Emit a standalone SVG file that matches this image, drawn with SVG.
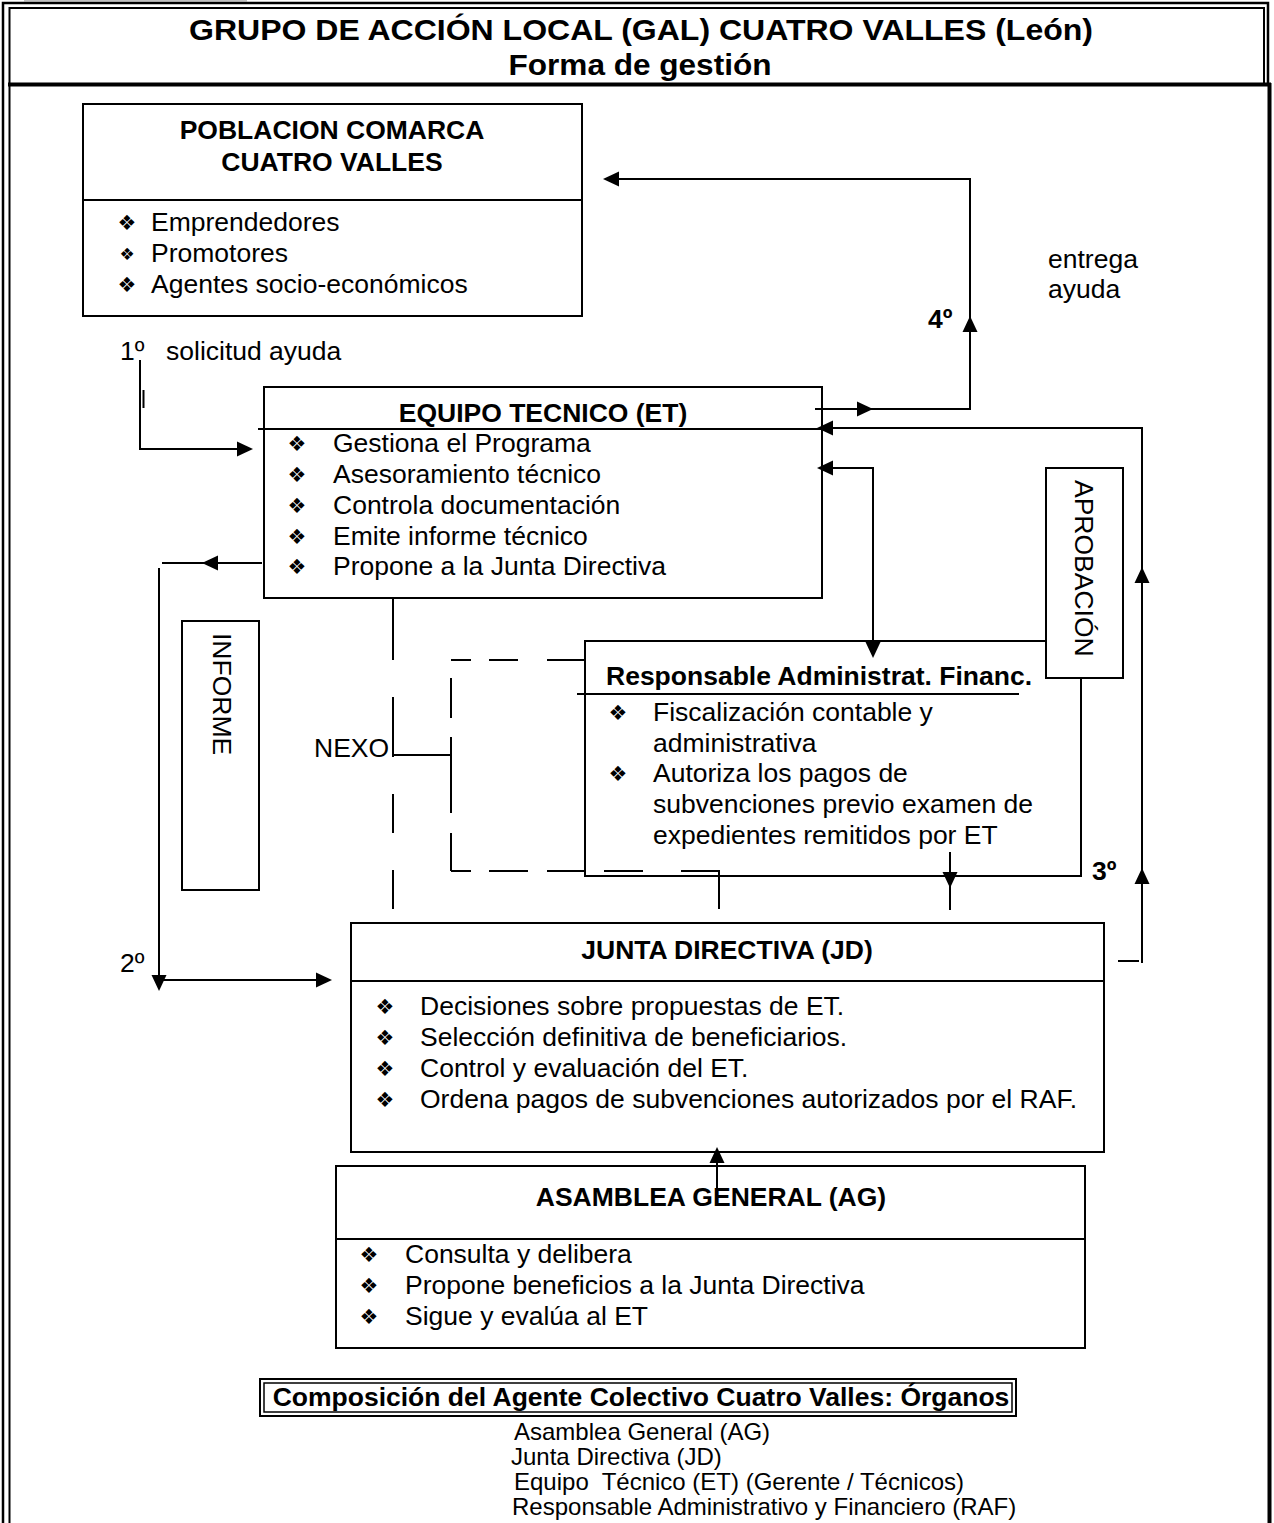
<svg xmlns="http://www.w3.org/2000/svg" width="1274" height="1523" viewBox="0 0 1274 1523">
<style>
.t{font-family:"Liberation Sans",Arial,sans-serif;font-size:26.5px;fill:#000}
.b{font-weight:bold}
.c{text-anchor:middle}
.ttl{font-size:30px;font-weight:bold;text-anchor:middle}
.lg{font-size:24px}
.box{fill:none;stroke:#000;stroke-width:2}
.wbox{fill:#fff;stroke:#000;stroke-width:2}
.ln{fill:none;stroke:#000;stroke-width:2}
.bul{font-family:"DejaVu Sans",sans-serif;font-size:21px;fill:#000;text-anchor:middle}
.frm{fill:none;stroke:#000}
</style>
<defs>
<path id="ah" d="M0,0 L-16,-7.5 L-16,7.5 Z" fill="#000"/>
</defs>
<rect width="1274" height="1523" fill="#fff"/>
<rect x="24" y="0" width="223" height="1.5" fill="#c0c0c0"/>

<g id="frame">
<path class="frm" stroke-width="2.5" d="M3,1523 V3 H1268 V84"/>
<path class="frm" stroke-width="2" d="M9.5,1523 V8 H1264 V84"/>
<line class="frm" stroke-width="4" x1="8" y1="84.5" x2="1271" y2="84.5"/>
<line class="frm" stroke-width="4" x1="1269.5" y1="83" x2="1269.5" y2="1523"/>
<text class="t ttl" x="641" y="40" textLength="904" lengthAdjust="spacingAndGlyphs">GRUPO DE ACCIÓN LOCAL (GAL) CUATRO VALLES (León)</text>
<text class="t ttl" x="640" y="75" textLength="263" lengthAdjust="spacingAndGlyphs">Forma de gestión</text>
</g>

<g id="poblacion">
<rect class="box" x="83" y="104" width="499" height="212"/>
<line class="ln" x1="83" y1="200" x2="582" y2="200"/>
<text class="t b c" x="332" y="139">POBLACION COMARCA</text>
<text class="t b c" x="332" y="171">CUATRO VALLES</text>
<text class="bul" x="127" y="230">❖</text>
<text class="bul" x="127" y="260" style="font-size:17px">❖</text>
<text class="bul" x="127" y="292">❖</text>
<text class="t" x="151" y="231">Emprendedores</text>
<text class="t" x="151" y="262">Promotores</text>
<text class="t" x="151" y="293">Agentes socio-económicos</text>
</g>

<g id="equipo-tecnico">
<rect class="box" x="264" y="387" width="558" height="211"/>
<line class="ln" x1="258" y1="429" x2="822" y2="429"/>
<text class="t b c" x="543" y="422">EQUIPO TECNICO (ET)</text>
<text class="bul" x="297" y="451">❖</text>
<text class="bul" x="297" y="482">❖</text>
<text class="bul" x="297" y="513">❖</text>
<text class="bul" x="297" y="544">❖</text>
<text class="bul" x="297" y="574">❖</text>
<text class="t" x="333" y="452">Gestiona el Programa</text>
<text class="t" x="333" y="483">Asesoramiento técnico</text>
<text class="t" x="333" y="514">Controla documentación</text>
<text class="t" x="333" y="545">Emite informe técnico</text>
<text class="t" x="333" y="575">Propone a la Junta Directiva</text>
</g>

<g id="informe">
<rect class="wbox" x="182" y="621" width="77" height="269"/>
<text class="t" transform="translate(213,633) rotate(90)">INFORME</text>
</g>

<g id="raf">
<rect class="box" x="585" y="641" width="496" height="235"/>
<line class="ln" x1="577" y1="694" x2="1019" y2="694"/>
<text class="t b" x="606" y="685">Responsable Administrat. Financ.</text>
<text class="bul" x="618" y="720">❖</text>
<text class="bul" x="618" y="781">❖</text>
<text class="t" x="653" y="721">Fiscalización contable y</text>
<text class="t" x="653" y="752">administrativa</text>
<text class="t" x="653" y="782">Autoriza los pagos de</text>
<text class="t" x="653" y="813">subvenciones previo examen de</text>
<text class="t" x="653" y="844">expedientes remitidos por ET</text>
</g>

<g id="aprobacion">
<rect class="wbox" x="1046" y="468" width="77" height="210"/>
<text class="t" transform="translate(1075,480) rotate(90)">APROBACIÓN</text>
</g>

<g id="junta-directiva">
<rect class="box" x="351" y="923" width="753" height="229"/>
<line class="ln" x1="351" y1="981" x2="1104" y2="981"/>
<text class="t b c" x="727" y="959">JUNTA DIRECTIVA (JD)</text>
<text class="bul" x="385" y="1014">❖</text>
<text class="bul" x="385" y="1045">❖</text>
<text class="bul" x="385" y="1076">❖</text>
<text class="bul" x="385" y="1107">❖</text>
<text class="t" x="420" y="1015">Decisiones sobre propuestas de ET.</text>
<text class="t" x="420" y="1046">Selección definitiva de beneficiarios.</text>
<text class="t" x="420" y="1077">Control y evaluación del ET.</text>
<text class="t" x="420" y="1108">Ordena pagos de subvenciones autorizados por el RAF.</text>
</g>

<g id="asamblea-general">
<rect class="box" x="336" y="1166" width="749" height="182"/>
<line class="ln" x1="336" y1="1239" x2="1085" y2="1239"/>
<text class="t b c" x="711" y="1206">ASAMBLEA GENERAL (AG)</text>
<text class="bul" x="369" y="1262">❖</text>
<text class="bul" x="369" y="1293">❖</text>
<text class="bul" x="369" y="1324">❖</text>
<text class="t" x="405" y="1263">Consulta y delibera</text>
<text class="t" x="405" y="1294">Propone beneficios a la Junta Directiva</text>
<text class="t" x="405" y="1325">Sigue y evalúa al ET</text>
</g>

<g id="labels">
<text class="t" x="120" y="360">1º</text>
<text class="t" x="166" y="360">solicitud ayuda</text>
<text class="t b" x="928" y="328">4º</text>
<text class="t" x="1048" y="268">entrega</text>
<text class="t" x="1048" y="298">ayuda</text>
<text class="t" x="120" y="972">2º</text>
<text class="t b" x="1092" y="880">3º</text>
<text class="t" x="314" y="757">NEXO</text>
</g>

<g id="connectors">
<!-- 1º solicitud -->
<path class="ln" d="M140,360 V449 H240"/>
<line class="ln" x1="143.5" y1="390" x2="143.5" y2="408"/>
<use href="#ah" transform="translate(253,449)"/>
<!-- ET -> informe -> JD -->
<path class="ln" d="M262,563 H162"/>
<use href="#ah" transform="translate(202,563) rotate(180)"/>
<path class="ln" d="M159,568 V978"/>
<use href="#ah" transform="translate(159,991) rotate(90)"/>
<path class="ln" d="M159,980 H320"/>
<use href="#ah" transform="translate(332,980)"/>
<!-- ET -> entrega ayuda -> Poblacion -->
<path class="ln" d="M815,409 H970 V179 H615"/>
<use href="#ah" transform="translate(873,409)"/>
<use href="#ah" transform="translate(970,316) rotate(-90)"/>
<use href="#ah" transform="translate(603,179) rotate(180)"/>
<!-- JD -> aprobacion -> ET -->
<path class="ln" d="M1142,963 V428 H830"/>
<use href="#ah" transform="translate(817,428) rotate(180)"/>
<use href="#ah" transform="translate(1142,567) rotate(-90)"/>
<use href="#ah" transform="translate(1142,868) rotate(-90)"/>
<line class="ln" x1="1118" y1="961" x2="1139" y2="961"/>
<!-- ET <-> RAF -->
<path class="ln" d="M830,468 H873 V646"/>
<use href="#ah" transform="translate(817,468) rotate(180)"/>
<use href="#ah" transform="translate(873,658) rotate(90)"/>
<!-- RAF -> JD -->
<line class="ln" x1="950" y1="852" x2="950" y2="910"/>
<use href="#ah" transform="translate(950,888) rotate(90)"/>
<!-- AG -> JD -->
<line class="ln" x1="717" y1="1203" x2="717" y2="1160"/>
<use href="#ah" transform="translate(717,1147) rotate(-90)"/>
<!-- NEXO dashed -->
<path class="ln" d="M393,598 V660 M393,697 V757 M393,794 V833 M393,870 V909"/>
<path class="ln" d="M393,755 H451"/>
<path class="ln" d="M451,660 H471 M489,660 H518 M547,660 H585"/>
<path class="ln" d="M451,678 V718 M451,737 V813 M451,833 V871"/>
<path class="ln" d="M451,871 H471 M489,871 H528 M547,871 H585 M604,871 H643 M681,871 H719 V909"/>
</g>

<g id="composicion">
<rect x="260" y="1379" width="756" height="37" fill="none" stroke="#000" stroke-width="2"/>
<rect x="264" y="1383" width="748" height="29" fill="none" stroke="#000" stroke-width="1.5"/>
<text class="t b c" x="641" y="1406">Composición del Agente Colectivo Cuatro Valles: Órganos</text>
<text class="t lg" x="514" y="1440">Asamblea General (AG)</text>
<text class="t lg" x="511" y="1465">Junta Directiva (JD)</text>
<text class="t lg" x="514" y="1490" xml:space="preserve">Equipo  Técnico (ET) (Gerente / Técnicos)</text>
<text class="t lg" x="512" y="1515">Responsable Administrativo y Financiero (RAF)</text>
</g>
</svg>
